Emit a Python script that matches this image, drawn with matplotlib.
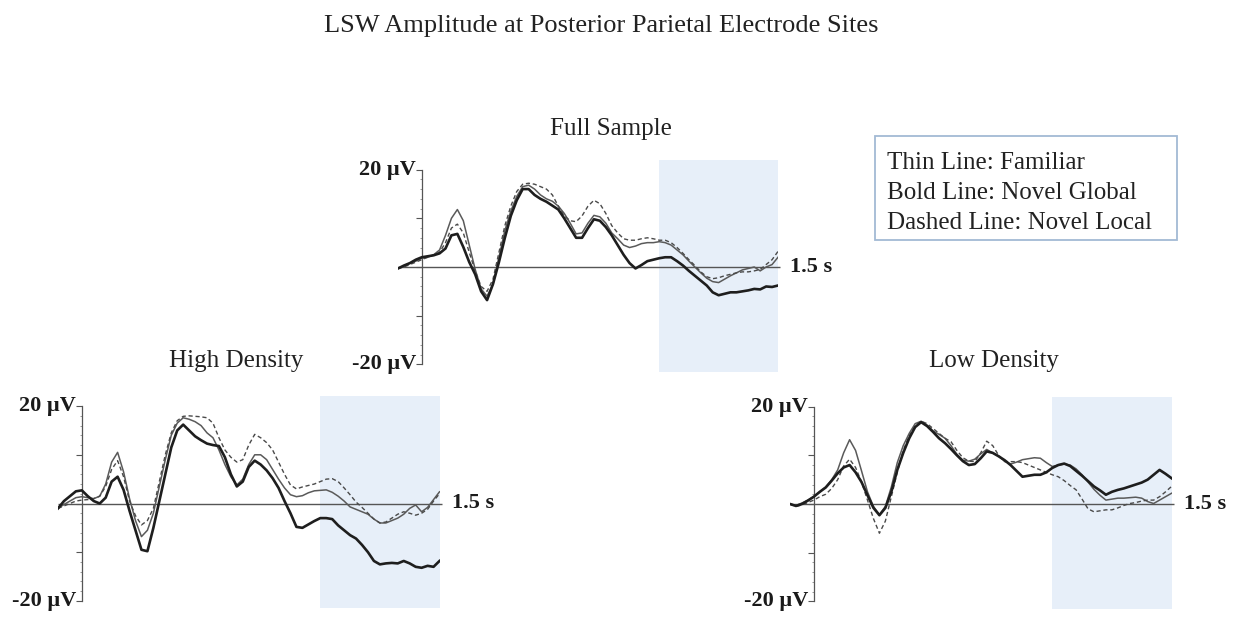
import numpy as np
import matplotlib
matplotlib.use("Agg")
import matplotlib.pyplot as plt
from matplotlib.patches import Rectangle

plt.rcParams['font.family'] = ['Liberation Serif', 'DejaVu Serif']

W, H = 1239, 617

# time grid (s), 25 ms steps from -100 ms to 1500 ms
TIME = np.round(np.arange(-0.1, 1.5001, 0.025), 3)

# Full sample (µV)
FULL_FAMILIAR = [-0.3, 0.2, 0.8, 1.2, 1.8, 2.0, 2.5, 3.5, 6.5, 10.0, 11.8, 9.5, 4.5, -0.5, -4.5, -6.0, -3.5,
                 2.0, 7.5, 11.5, 14.5, 16.5, 16.8, 16.0, 14.8, 14.0, 13.5, 12.5, 11.0, 9.0, 6.8, 7.0, 9.0,
                 10.6, 10.3, 9.0, 7.0, 5.8, 4.5, 4.0, 4.3, 4.8, 5.0, 5.0, 5.2, 5.0, 4.5, 3.5, 2.5, 1.2,
                 0.0, -1.2, -2.3, -3.0, -3.2, -2.5, -1.8, -1.2, -0.6, -0.3, 0.0, -0.8, 0.0, 0.5, 2.0]
FULL_GLOBAL = [-0.3, 0.3, 0.8, 1.5, 2.0, 2.2, 2.4, 2.8, 3.8, 6.5, 6.8, 4.1, 1.0, -1.5, -5.0, -6.8, -3.5,
               1.0, 6.0, 10.5, 13.7, 16.0, 16.0, 14.8, 14.0, 13.4, 12.6, 11.8, 10.0, 8.0, 6.0, 6.0, 8.0,
               9.8, 9.5, 8.2, 6.5, 4.5, 2.5, 0.8, -0.3, 0.4, 1.2, 1.5, 1.8, 2.0, 2.0, 1.2, 0.3, -0.8,
               -1.8, -2.8, -3.8, -5.2, -5.8, -5.5, -5.2, -5.2, -5.0, -4.8, -4.5, -4.6, -4.0, -4.1, -3.8]
FULL_LOCAL = [-0.3, 0.0, 0.5, 1.0, 1.5, 2.0, 2.5, 3.0, 5.0, 8.0, 8.8, 7.0, 3.0, -0.8, -4.0, -5.0, -2.5,
              3.0, 8.5, 12.5, 15.5, 17.0, 17.2, 17.0, 16.5, 16.0, 14.8, 12.5, 10.5, 9.5, 9.3, 10.5, 12.5,
              13.7, 13.0, 11.0, 8.5, 7.0, 5.8, 5.5, 5.5, 5.8, 6.0, 5.8, 5.5, 5.5, 5.0, 4.0, 2.8, 1.5,
              0.3, -1.0, -2.0, -2.4, -2.2, -1.8, -1.5, -1.2, -1.0, -1.0, -0.8, -0.5, 0.5, 1.5, 3.2]

# High density
HIGH_FAMILIAR = [-1.0, -0.2, 0.5, 1.2, 1.4, 1.2, 1.0, 1.5, 4.0, 8.5, 10.5, 6.5, 1.0, -3.5, -6.8, -5.5, -2.0,
                 3.5, 9.0, 14.0, 16.5, 17.6, 17.3, 16.8, 16.0, 14.5, 13.5, 11.0, 8.0, 5.5, 3.8, 5.0, 8.0,
                 10.0, 10.0, 9.0, 7.0, 5.0, 3.2, 1.8, 1.4, 1.6, 2.2, 2.6, 2.7, 2.8, 2.3, 1.5, 0.5, -0.7,
                 -1.2, -1.7, -2.2, -3.2, -4.0, -4.0, -3.5, -3.0, -2.2, -1.0, -0.3, -1.7, -0.8, 0.8, 2.4]
HIGH_GLOBAL = [-1.0, 0.5, 1.5, 2.5, 2.7, 1.5, 0.5, 0.0, 1.2, 4.5, 5.5, 2.8, -1.5, -5.5, -9.5, -9.8, -5.0,
               0.5, 6.0, 11.5, 15.0, 16.2, 15.0, 13.8, 13.0, 12.3, 12.0, 11.8, 9.5, 6.0, 3.5, 4.5, 7.5,
               8.8, 8.0, 6.8, 5.2, 3.2, 0.5, -2.0, -4.8, -5.0, -4.3, -3.6, -3.0, -3.0, -3.2, -4.5, -5.5,
               -6.5, -7.2, -8.5, -10.0, -11.8, -12.5, -12.3, -12.2, -12.3, -11.8, -12.3, -13.0, -13.2,
               -12.8, -13.0, -11.8]
HIGH_LOCAL = [-1.0, -0.5, 0.0, 0.5, 0.7, 0.8, 1.0, 1.5, 3.5, 7.0, 8.8, 5.5, 0.5, -2.5, -4.4, -3.5, -1.0,
              4.5, 10.0, 14.5, 17.0, 17.9, 18.0, 17.9, 17.8, 17.6, 16.5, 13.5, 11.0, 9.5, 8.5, 9.0, 12.0,
              14.2, 13.5, 12.5, 11.0, 8.5, 6.0, 3.8, 3.0, 3.4, 3.7, 4.0, 4.5, 5.0, 5.1, 4.5, 3.2, 1.8,
              0.3, -0.8, -2.0, -3.2, -4.0, -3.8, -3.0, -2.2, -1.7, -2.0, -2.4, -2.0, -1.2, 0.5, 2.0]

# Low density
LOW_FAMILIAR = [0.0, -0.3, 0.2, 0.8, 1.5, 2.5, 3.5, 5.0, 7.0, 10.5, 13.2, 11.0, 6.8, 2.5, -0.5, -2.2, -0.5,
                3.5, 8.5, 12.0, 14.5, 16.5, 17.0, 16.2, 15.0, 14.3, 13.5, 12.0, 10.2, 9.0, 8.8, 9.2, 10.3,
                11.2, 10.5, 9.8, 8.8, 8.2, 8.6, 9.1, 9.3, 9.5, 9.4, 8.5, 7.7, 8.0, 8.2, 8.0, 7.2, 6.0,
                4.5, 3.0, 1.8, 0.8, 1.0, 1.2, 1.2, 1.3, 1.4, 1.2, 0.5, 0.1, 0.8, 1.5, 2.2]
LOW_GLOBAL = [0.0, -0.4, 0.0, 0.7, 1.5, 2.5, 3.4, 4.8, 6.3, 7.5, 8.0, 6.5, 4.5, 1.8, -0.8, -2.3, -0.8,
              2.5, 7.0, 10.5, 13.5, 15.8, 16.8, 16.0, 14.8, 13.5, 12.5, 11.3, 10.0, 8.8, 8.0, 8.2, 9.4,
              10.8, 10.5, 9.8, 9.0, 8.0, 6.8, 5.6, 5.8, 6.0, 6.0, 6.5, 7.4, 8.0, 8.3, 7.8, 6.8, 5.8,
              4.7, 3.6, 2.8, 1.9, 2.5, 2.9, 3.2, 3.6, 4.0, 4.4, 5.0, 6.0, 7.0, 6.2, 5.3]
LOW_LOCAL = [0.0, -0.5, -0.2, 0.3, 0.8, 1.5, 2.0, 3.2, 5.0, 7.8, 9.2, 7.5, 4.5, 0.8, -3.0, -6.0, -3.5,
             1.5, 6.5, 11.0, 14.0, 16.0, 17.0, 16.5, 15.5, 14.5, 13.5, 12.8, 11.0, 9.5, 8.8, 8.7, 10.5,
             12.9, 12.0, 10.0, 8.7, 8.7, 8.7, 8.5, 8.0, 7.5, 7.0, 6.5, 6.0, 5.6, 4.8, 3.8, 2.9, 1.0,
             -1.0, -1.6, -1.4, -1.2, -1.2, -0.8, -0.3, 0.1, 0.3, 0.6, 0.8, 0.8, 1.5, 2.5, 3.6]

WINDOW = (1.0, 1.5)
YLIM = (-21.5, 22.0)
PX_PER_UV = 4.87
TEXT = "#222222"

fig = plt.figure(figsize=(W / 100, H / 100), dpi=100)


def add_panel(left, right, zero_y, title, title_x, title_y, familiar, glob, local):
    top = zero_y - YLIM[1] * PX_PER_UV
    bottom = zero_y - YLIM[0] * PX_PER_UV
    ax = fig.add_axes([left / W, 1 - bottom / H, (right - left) / W, (bottom - top) / H])
    ax.set_xlim(TIME[0], TIME[-1])
    ax.set_ylim(*YLIM)
    ax.patch.set_alpha(0)

    ax.axvspan(*WINDOW, color="#E7EFF9", zorder=0, lw=0)
    ax.hlines(0, TIME[0], 1.51, color="#555555", lw=1.0, clip_on=False, zorder=1)

    ax.plot(TIME, familiar, color="#5a5a5a", lw=1.1, zorder=3)
    ax.plot(TIME, local, color="#4a4a4a", lw=1.0, ls=(0, (3, 2)), zorder=3)
    ax.plot(TIME, glob, color="#1e1e1e", lw=1.9, zorder=4)

    for side in ("top", "right", "bottom"):
        ax.spines[side].set_visible(False)
    ax.spines["left"].set_position(("data", 0))
    ax.spines["left"].set_bounds(-20, 20)
    ax.spines["left"].set_color("#555555")
    ax.spines["left"].set_linewidth(0.9)
    ax.set_xticks([])
    ax.set_yticks([-20, -10, 0, 10, 20])
    ax.set_yticklabels([])
    ax.set_yticks(np.arange(-20, 21, 2), minor=True)
    ax.tick_params(axis="y", which="major", length=4, width=0.8, color="#555555")
    ax.tick_params(axis="y", which="minor", length=1.5, width=0.6, color="#888888")

    ax.annotate("20 µV", xy=(0, 20), xytext=(-4, 0), textcoords="offset points",
                ha="right", va="center", fontsize=16, fontweight="bold", color="#1a1a1a")
    ax.annotate("-20 µV", xy=(0, -20), xytext=(-4, 0), textcoords="offset points",
                ha="right", va="center", fontsize=16, fontweight="bold", color="#1a1a1a")
    ax.annotate("1.5 s", xy=(1.5, 0), xytext=(9, 0), textcoords="offset points",
                ha="left", va="center", fontsize=16, fontweight="bold", color="#1a1a1a")

    fig.text(title_x / W, 1 - title_y / H, title, ha="center", va="baseline",
             fontsize=18, color=TEXT)
    return ax


add_panel(398, 778, 267, "Full Sample", 611, 135, FULL_FAMILIAR, FULL_GLOBAL, FULL_LOCAL)
add_panel(58, 439.5, 503.5, "High Density", 236, 367, HIGH_FAMILIAR, HIGH_GLOBAL, HIGH_LOCAL)
add_panel(790, 1171.5, 504, "Low Density", 994, 367, LOW_FAMILIAR, LOW_GLOBAL, LOW_LOCAL)

fig.text(601 / W, 1 - 32 / H, "LSW Amplitude at Posterior Parietal Electrode Sites",
         ha="center", va="baseline", fontsize=19, color=TEXT)

# legend box
fig.patches.append(Rectangle((875 / W, 1 - 240 / H), 302 / W, 104 / H, transform=fig.transFigure,
                             facecolor="white", edgecolor="#A3BAD4", lw=1.3))
legend_lines = ["Thin Line: Familiar", "Bold Line: Novel Global", "Dashed Line: Novel Local"]
for i, txt in enumerate(legend_lines):
    fig.text(887 / W, 1 - (169 + 30 * i) / H, txt, ha="left", va="baseline", fontsize=18, color=TEXT)

fig.savefig("out.png", dpi=100)
